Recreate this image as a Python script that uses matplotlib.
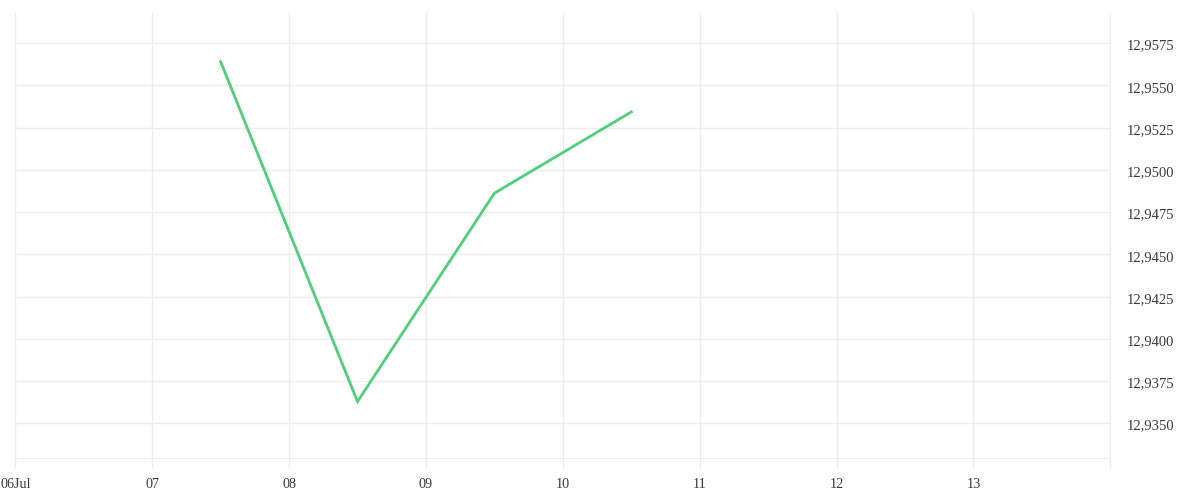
import numpy as np
import matplotlib
matplotlib.use("Agg")
import matplotlib.pyplot as plt
import matplotlib.dates as mdates
import matplotlib.transforms as mtransforms
from matplotlib.ticker import FuncFormatter, FixedLocator
import datetime as dt

# series: midday samples
dates = [dt.datetime(2023, 7, 7, 12), dt.datetime(2023, 7, 8, 12),
         dt.datetime(2023, 7, 9, 12), dt.datetime(2023, 7, 10, 12)]
values = [12.95641, 12.93628, 12.94862, 12.95343]

y_ticks = [12.9350, 12.9375, 12.9400, 12.9425, 12.9450,
           12.9475, 12.9500, 12.9525, 12.9550, 12.9575]
x_days = [dt.datetime(2023, 7, d) for d in range(6, 15)]
x_labels = ["06Jul", "07", "08", "09", "10", "11", "12", "13", ""]

GRID = "#ededed"
LINE = "#4fcf79"
TEXT = "#3a3a3a"
Y_MIN, Y_MAX = 12.93294, 12.95929

fig = plt.figure(figsize=(12, 5), dpi=100)
ax = fig.add_axes([15.3 / 1200, 1 - 458 / 500, (1110.3 - 15.3) / 1200, (458 - 13) / 500])

ax.plot(mdates.date2num(dates), values, color=LINE, lw=2, solid_joinstyle="miter")

ax.set_xlim(mdates.date2num(x_days[0]), mdates.date2num(x_days[-1]))
ax.set_ylim(Y_MIN, Y_MAX)

ax.xaxis.set_major_locator(FixedLocator(mdates.date2num(x_days)))
ax.set_xticklabels(x_labels)
ax.yaxis.set_major_locator(FixedLocator(y_ticks))
ax.yaxis.set_major_formatter(FuncFormatter(lambda v, p: f"{v:.4f}".replace(".", ",")))
ax.yaxis.tick_right()

ax.grid(True, color=GRID, lw=1)
ax.set_axisbelow(True)
for s in ("top", "left"):
    ax.spines[s].set_visible(False)
ax.spines["bottom"].set_color(GRID)
ax.spines["right"].set_color(GRID)
ax.spines["right"].set_bounds(Y_MIN - 0.00059, Y_MAX)
ax.spines["right"].set_clip_on(False)

ax.tick_params(axis="x", length=7.2, color=GRID, width=1, pad=7,
               labelsize=10.2, labelcolor=TEXT)
ax.tick_params(axis="y", length=0, pad=12, labelsize=10.5, labelcolor=TEXT)

shift = mtransforms.ScaledTranslation(0, -1 / 72, fig.dpi_scale_trans)
for lab in ax.get_yticklabels():
    lab.set_transform(lab.get_transform() + shift)
for lab in ax.get_xticklabels() + ax.get_yticklabels():
    lab.set_family(["Liberation Serif", "DejaVu Serif"])

fig.savefig("out.png", dpi=100)
